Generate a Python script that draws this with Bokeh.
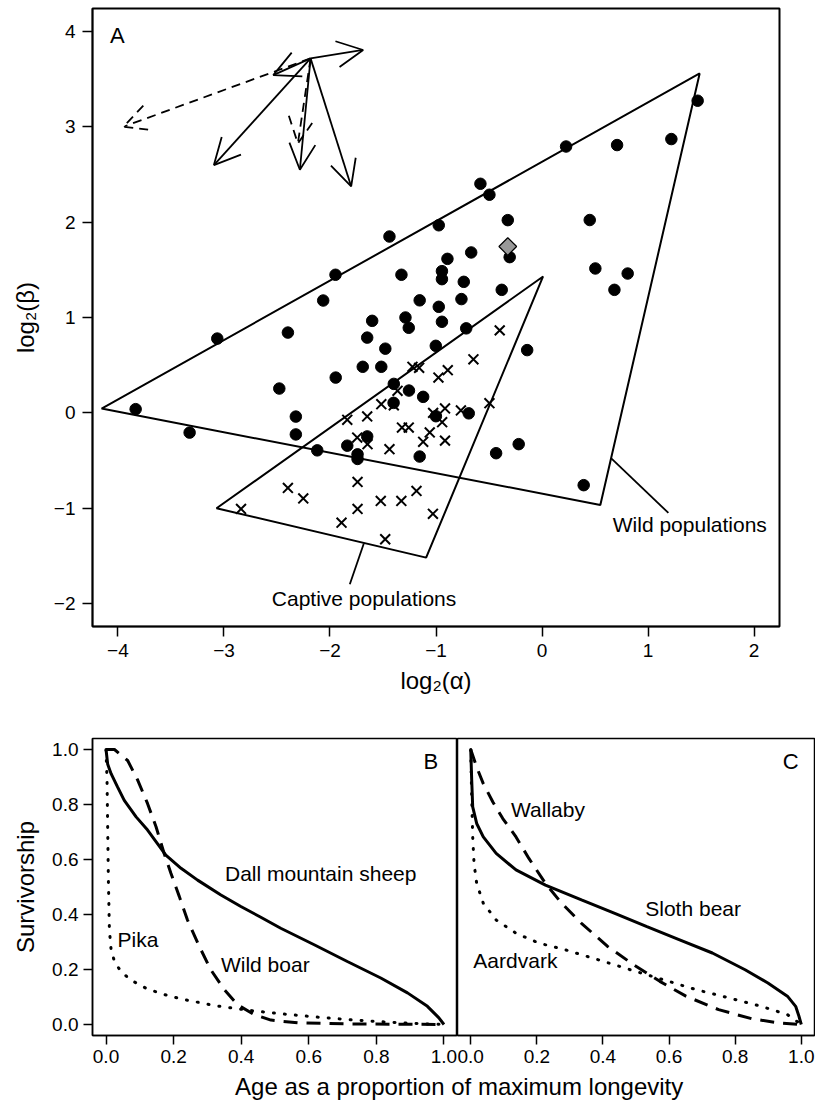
import numpy as np
from bokeh.plotting import figure
from bokeh.models import ColumnDataSource, Arrow, OpenHead, FixedTicker, Range1d, Label
from bokeh.layouts import column, row
from bokeh.embed import file_html
from bokeh.resources import INLINE
from bokeh.core.properties import value

FONT = "Liberation Sans"

# ---------------- Panel A data ----------------
wild_x = [1.468, 1.220, 0.708, 0.227, -0.581, -0.496, -0.974, -1.439, -0.323, 0.450,
          -0.668, -0.892, -0.305, -1.948, -1.326, -0.944, -0.944, -0.738, 0.503, 0.808,
          0.683, -0.380, -2.064, -1.154, -0.760, -0.974, -2.397, -3.063, -1.602, -1.288,
          -1.257, -0.944, -0.715, -0.140, -1.649, -1.478, -1.002, -1.691, -1.516, -1.946,
          -2.478, -1.398, -1.255, -1.121, -1.400, -1.001, -0.691, -2.322, -3.833, -3.324,
          -2.322, -1.649, -1.837, -2.120, -1.740, -1.740, -1.154, -0.433, -0.220, 0.393]
wild_y = [3.273, 2.871, 2.808, 2.793, 2.402, 2.287, 1.967, 1.849, 2.021, 2.022,
          1.682, 1.615, 1.633, 1.448, 1.448, 1.486, 1.402, 1.374, 1.514, 1.461,
          1.290, 1.290, 1.178, 1.180, 1.193, 1.112, 0.842, 0.779, 0.965, 1.000,
          0.892, 0.955, 0.886, 0.658, 0.789, 0.673, 0.703, 0.483, 0.483, 0.370,
          0.255, 0.304, 0.234, 0.168, 0.105, -0.035, -0.005, -0.039, 0.039, -0.207,
          -0.226, -0.247, -0.344, -0.393, -0.435, -0.483, -0.458, -0.423, -0.328, -0.758]

captive_x = [-0.399, -0.647, -1.222, -1.159, -0.889, -0.977, -1.363, -1.516, -1.398, -1.837,
             -1.649, -1.027, -0.915, -0.765, -0.496, -0.942, -1.321, -1.257, -1.059, -1.743,
             -1.646, -1.121, -0.915, -1.439, -1.740, -2.397, -2.252, -1.521, -1.327, -1.184,
             -1.740, -1.891, -1.029, -1.479, -2.839]
captive_y = [0.865, 0.561, 0.483, 0.472, 0.448, 0.370, 0.231, 0.091, 0.079, -0.073,
             -0.037, 0.000, 0.047, 0.026, 0.102, -0.098, -0.154, -0.154, -0.205, -0.259,
             -0.328, -0.304, -0.291, -0.381, -0.724, -0.787, -0.897, -0.923, -0.923, -0.818,
             -1.007, -1.151, -1.059, -1.325, -1.007]

highlight_x = [-0.323]
highlight_y = [1.744]

wild_hull_x = [-4.154, 1.487, 0.550]
wild_hull_y = [0.045, 3.559, -0.965]
captive_hull_x = [-3.070, 0.010, -1.093]
captive_hull_y = [-1.000, 1.430, -1.518]

arrow_origin_x = -2.183
arrow_origin_y = 3.717
solid_arrow_x = [-1.687, -2.535, -3.095, -2.284, -1.800]
solid_arrow_y = [3.805, 3.542, 2.598, 2.549, 2.374]
dashed_arrow_x = [-3.949, -2.303]
dashed_arrow_y = [3.000, 2.825]

group_labels = ["Wild populations", "Captive populations"]
group_label_x = [1.394, -1.679]
group_label_y = [-1.175, -1.950]
pointer_x0 = [0.651, -1.681]
pointer_y0 = [-0.475, -1.370]
pointer_x1 = [1.192, -1.813]
pointer_y1 = [-1.049, -1.797]

a_xticks = [-4, -3, -2, -1, 0, 1, 2]
a_yticks = [-2, -1, 0, 1, 2, 3, 4]
a_xtick_labels = ["\u22124", "\u22123", "\u22122", "\u22121", "0", "1", "2"]
a_ytick_labels = ["\u22122", "\u22121", "0", "1", "2", "3", "4"]

# ---------------- Panels B and C data ----------------
dall_x = [0, 0.005, 0.015, 0.034, 0.054, 0.089, 0.123, 0.177, 0.222, 0.271, 0.340,
          0.399, 0.458, 0.517, 0.616, 0.714, 0.813, 0.892, 0.951, 0.985, 1.0]
dall_y = [1.0, 0.946, 0.912, 0.864, 0.815, 0.755, 0.707, 0.616, 0.568, 0.525, 0.471,
          0.429, 0.390, 0.350, 0.290, 0.229, 0.169, 0.115, 0.066, 0.024, 0.0]
boar_x = [0, 0.025, 0.064, 0.094, 0.123, 0.148, 0.172, 0.192, 0.217, 0.241, 0.276,
          0.310, 0.350, 0.389, 0.438, 0.488, 0.567, 0.714, 1.0]
boar_y = [1.0, 1.0, 0.960, 0.888, 0.803, 0.719, 0.622, 0.550, 0.465, 0.380, 0.284,
          0.199, 0.127, 0.072, 0.036, 0.016, 0.006, 0.002, 0.0]
pika_x = [0, 0.003, 0.005, 0.007, 0.010, 0.015, 0.025, 0.044, 0.074, 0.123, 0.172,
          0.222, 0.320, 0.419, 0.517, 0.616, 0.714, 0.813, 0.911, 1.0]
pika_y = [1.0, 0.888, 0.707, 0.525, 0.344, 0.272, 0.229, 0.193, 0.161, 0.129, 0.109,
          0.093, 0.069, 0.052, 0.039, 0.028, 0.018, 0.010, 0.004, 0.0]

sloth_x = [0, 0.003, 0.006, 0.018, 0.038, 0.077, 0.137, 0.226, 0.335, 0.434, 0.533,
           0.632, 0.731, 0.830, 0.899, 0.958, 0.983, 0.993, 1.0]
sloth_y = [1.0, 0.888, 0.791, 0.731, 0.682, 0.622, 0.562, 0.507, 0.453, 0.405, 0.356,
           0.308, 0.260, 0.199, 0.151, 0.103, 0.066, 0.030, 0.0]
wallaby_x = [0, 0.018, 0.038, 0.067, 0.097, 0.137, 0.176, 0.226, 0.275, 0.335, 0.414,
             0.493, 0.572, 0.651, 0.750, 0.850, 0.929, 1.0]
wallaby_y = [1.0, 0.936, 0.876, 0.809, 0.749, 0.682, 0.604, 0.513, 0.441, 0.368, 0.284,
             0.217, 0.157, 0.103, 0.054, 0.021, 0.006, 0.0]
aardvark_x = [0, 0.003, 0.006, 0.010, 0.018, 0.038, 0.077, 0.137, 0.206, 0.285, 0.384,
              0.483, 0.582, 0.681, 0.780, 0.879, 0.958, 1.0]
aardvark_y = [1.0, 0.827, 0.682, 0.586, 0.513, 0.441, 0.380, 0.332, 0.296, 0.272, 0.236,
              0.199, 0.163, 0.127, 0.097, 0.066, 0.036, 0.0]

b_labels = ["Dall mountain sheep", "Pika", "Wild boar"]
b_label_x = [0.352, 0.034, 0.340]
b_label_y = [0.550, 0.308, 0.220]
c_labels = ["Wallaby", "Sloth bear", "Aardvark"]
c_label_x = [0.122, 0.528, 0.008]
c_label_y = [0.783, 0.423, 0.232]

surv_ticks = [0.0, 0.2, 0.4, 0.6, 0.8, 1.0]
surv_tick_labels = ["0.0", "0.2", "0.4", "0.6", "0.8", "1.0"]


def style(p, tick_out, label_size="19px"):
    p.xgrid.visible = False
    p.ygrid.visible = False
    p.outline_line_color = "black"
    p.outline_line_alpha = 1.0
    p.background_fill_color = "white"
    p.border_fill_color = "white"
    for ax in p.axis:
        ax.major_tick_out = tick_out
        ax.major_tick_in = 0
        ax.minor_tick_line_color = None
        ax.major_tick_line_color = "black"
        ax.major_tick_line_width = 1.5
        ax.axis_line_color = "black"
        ax.axis_line_width = 1.5
        ax.major_label_text_font = FONT
        ax.major_label_text_font_size = label_size
        ax.major_label_text_color = "black"
        ax.axis_label_text_font = FONT
        ax.axis_label_text_font_style = "normal"
        ax.axis_label_text_font_size = "24px"
        ax.axis_label_text_color = "black"


# ---------------- Panel A ----------------
pA = figure(width=815, height=716, frame_width=687, frame_height=618,
            x_range=Range1d(-4.24, 2.24), y_range=Range1d(-2.24, 4.24),
            toolbar_location=None, output_backend="svg",
            min_border_left=92, min_border_right=36, min_border_top=8, min_border_bottom=90)
style(pA, 10)
pA.outline_line_width = 2
pA.xaxis.ticker = FixedTicker(ticks=a_xticks)
pA.yaxis.ticker = FixedTicker(ticks=a_yticks)
pA.xaxis.major_label_overrides = {t: l for t, l in zip(a_xticks, a_xtick_labels)}
pA.yaxis.major_label_overrides = {t: l for t, l in zip(a_yticks, a_ytick_labels)}
pA.xaxis.axis_label = "log\u2082(\u03b1)"
pA.yaxis.axis_label = "log\u2082(\u03b2)"
pA.xaxis.major_label_standoff = 7
pA.yaxis.major_label_standoff = 7
pA.xaxis.axis_label_standoff = 7
pA.yaxis.axis_label_standoff = 12

pA.patches(xs=[wild_hull_x, captive_hull_x], ys=[wild_hull_y, captive_hull_y],
           fill_color=None, line_color="black", line_width=2)
pA.segment(x0=pointer_x0, y0=pointer_y0, x1=pointer_x1, y1=pointer_y1,
           line_color="black", line_width=1.8)
pA.scatter(wild_x, wild_y, marker="circle", size=11.5, fill_color="black", line_color="black")
pA.scatter(captive_x, captive_y, marker="x", size=14, line_color="black", line_width=2)
pA.scatter(highlight_x, highlight_y, marker="square", angle=np.pi / 4, size=12.5,
           fill_color="#999999", line_color="black", line_width=1.2)

src_solid = ColumnDataSource(dict(x0=[arrow_origin_x] * len(solid_arrow_x),
                                  y0=[arrow_origin_y] * len(solid_arrow_y),
                                  x1=solid_arrow_x, y1=solid_arrow_y))
src_dash = ColumnDataSource(dict(x0=[arrow_origin_x] * len(dashed_arrow_x),
                                 y0=[arrow_origin_y] * len(dashed_arrow_y),
                                 x1=dashed_arrow_x, y1=dashed_arrow_y))
pA.add_layout(Arrow(end=OpenHead(size=26, line_width=1.8, line_color="black"),
                    x_start="x0", y_start="y0", x_end="x1", y_end="y1", source=src_solid,
                    line_color="black", line_width=1.8))
pA.add_layout(Arrow(end=OpenHead(size=26, line_width=1.8, line_color="black", line_dash="9 6"),
                    x_start="x0", y_start="y0", x_end="x1", y_end="y1", source=src_dash,
                    line_color="black", line_width=1.8, line_dash="9 6"))

pA.text(x=group_label_x, y=group_label_y, text=group_labels, text_font=value(FONT),
        text_font_size="21px", text_align="center", text_baseline="middle", text_color="black")
pA.text(x=[-4.006], y=[3.958], text=["A"], text_font=value(FONT), text_font_size="22px",
        text_align="center", text_baseline="middle", text_color="black")

# ---------------- Panel B ----------------
pB = figure(width=457, height=355, frame_width=365, frame_height=297,
            x_range=Range1d(-0.04, 1.04), y_range=Range1d(-0.04, 1.04),
            toolbar_location=None, output_backend="svg",
            min_border_left=92, min_border_right=0, min_border_top=22, min_border_bottom=36)
style(pB, 9)
pB.outline_line_width = 1.5
pB.xaxis.ticker = FixedTicker(ticks=surv_ticks)
pB.yaxis.ticker = FixedTicker(ticks=surv_ticks)
pB.xaxis.major_label_overrides = {t: l for t, l in zip(surv_ticks, surv_tick_labels)}
pB.yaxis.major_label_overrides = {t: l for t, l in zip(surv_ticks, surv_tick_labels)}
pB.xaxis.major_label_standoff = 5
pB.yaxis.major_label_standoff = 5
pB.yaxis.axis_label = "Survivorship"
pB.yaxis.axis_label_standoff = 10

pB.line(dall_x, dall_y, line_color="black", line_width=3)
pB.line(boar_x, boar_y, line_color="black", line_width=3, line_dash="14 9")
pB.line(pika_x, pika_y, line_color="black", line_width=3, line_dash="1 10", line_cap="round")
pB.text(x=b_label_x, y=b_label_y, text=b_labels, text_font=value(FONT), text_font_size="21px",
        text_align="left", text_baseline="middle", text_color="black")
pB.text(x=[0.961], y=[0.958], text=["B"], text_font=value(FONT), text_font_size="22px",
        text_align="center", text_baseline="middle", text_color="black")

# ---------------- Panel C ----------------
pC = figure(width=358, height=355, frame_width=357, frame_height=297,
            x_range=Range1d(-0.04, 1.04), y_range=Range1d(-0.04, 1.04),
            toolbar_location=None, output_backend="svg", y_axis_location=None,
            min_border_left=0, min_border_right=1, min_border_top=22, min_border_bottom=36)
style(pC, 9)
pC.outline_line_width = 1.5
pC.xaxis.ticker = FixedTicker(ticks=surv_ticks)
pC.xaxis.major_label_overrides = {t: l for t, l in zip(surv_ticks, surv_tick_labels)}
pC.xaxis.major_label_standoff = 5

pC.line(sloth_x, sloth_y, line_color="black", line_width=3)
pC.line(wallaby_x, wallaby_y, line_color="black", line_width=3, line_dash="14 9")
pC.line(aardvark_x, aardvark_y, line_color="black", line_width=3, line_dash="1 10", line_cap="round")
pC.text(x=c_label_x, y=c_label_y, text=c_labels, text_font=value(FONT), text_font_size="21px",
        text_align="left", text_baseline="middle", text_color="black")
pC.text(x=[0.968], y=[0.958], text=["C"], text_font=value(FONT), text_font_size="22px",
        text_align="center", text_baseline="middle", text_color="black")

# ---------------- shared x label ----------------
pX = figure(width=815, height=29, x_range=Range1d(0, 815), y_range=Range1d(0, 29),
            toolbar_location=None, output_backend="svg", min_border=0,
            x_axis_location=None, y_axis_location=None)
pX.outline_line_color = None
pX.xgrid.visible = False
pX.ygrid.visible = False
pX.add_layout(Label(x=435, y=14, text="Age as a proportion of maximum longevity",
                    text_align="center", text_baseline="middle", text_font=FONT,
                    text_font_size="24px", text_color="black"))

layout = column(pA, row(pB, pC), pX)
open("out.html", "w").write(file_html(layout, INLINE))
